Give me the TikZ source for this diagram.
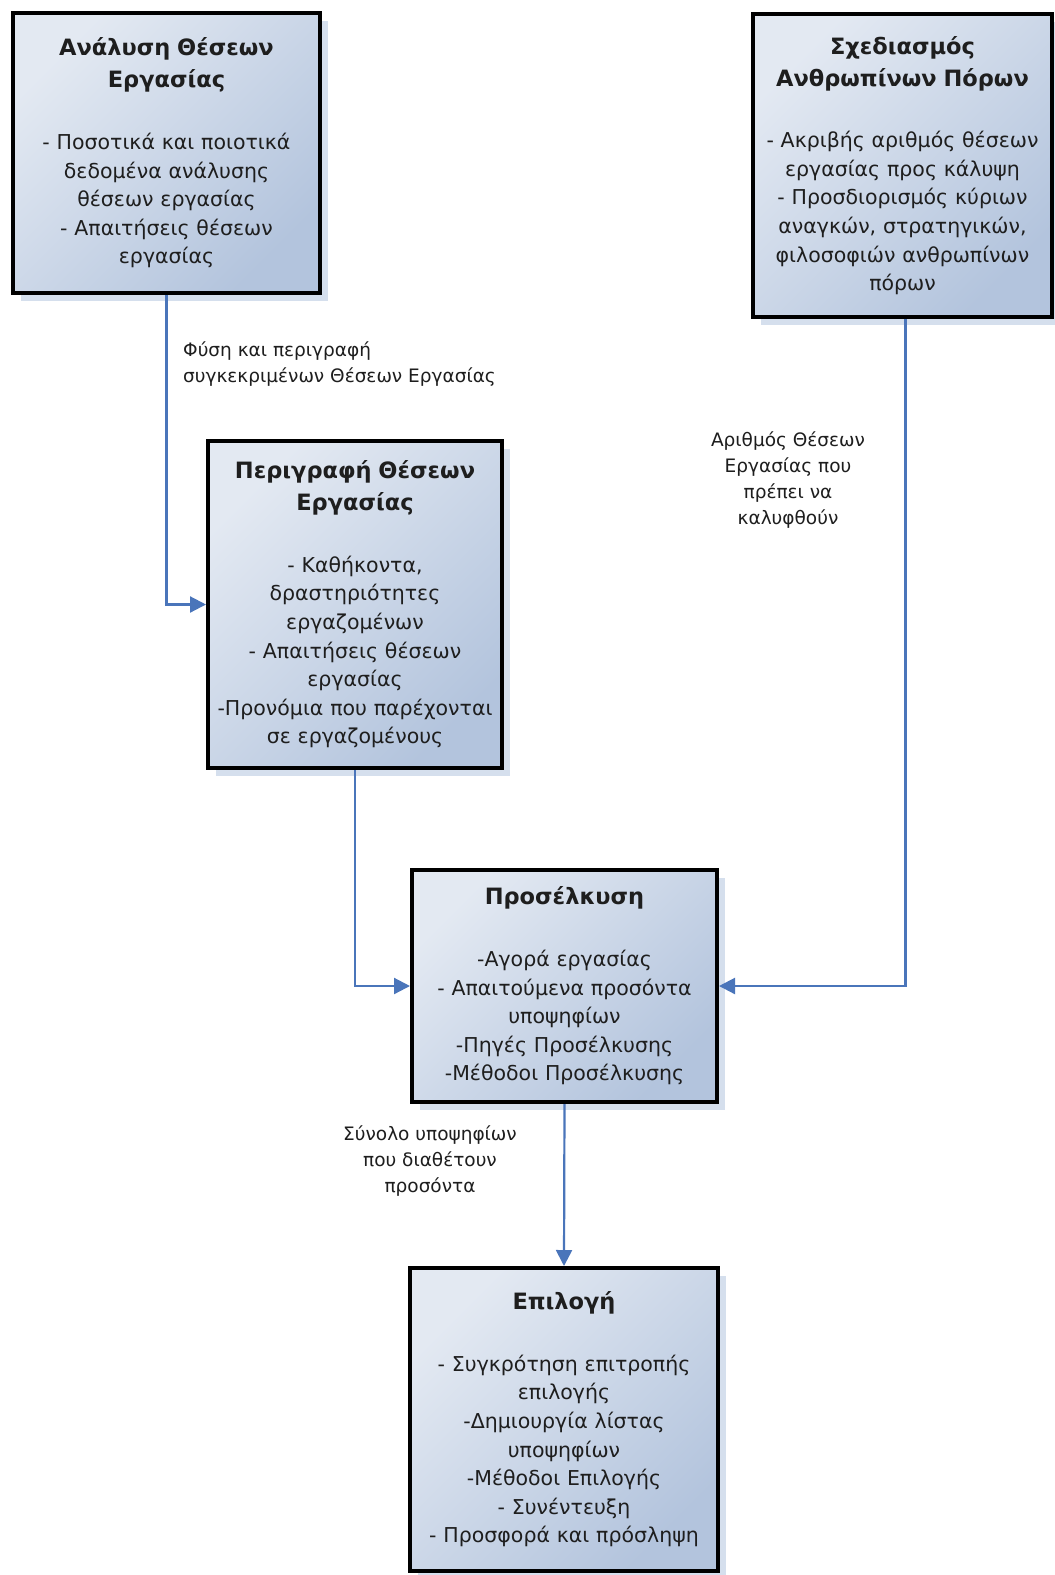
\documentclass[tikz,border=0pt]{standalone}
\usepackage{fontspec}
\setmainfont{DejaVu Sans}
\usetikzlibrary{arrows.meta,shadows}
\definecolor{lineblue}{HTML}{4A75BA}
\definecolor{boxlight}{HTML}{E3E9F2}
\definecolor{boxdark}{HTML}{B3C4DD}
\definecolor{shadowblue}{HTML}{D5DFED}
\definecolor{txt}{HTML}{1E1E1E}
\newcommand{\bxtitle}[1]{{\bfseries\fontsize{22.5}{32}\selectfont #1\par}\vspace{33pt}}
\begin{document}
\begin{tikzpicture}[x=1pt,y=-1pt,
  box/.style={draw=black, line width=4pt, rectangle, align=center,
    top color=boxlight, bottom color=boxdark, shading angle=45,
    drop shadow={shadow xshift=8pt, shadow yshift=-8pt, fill=shadowblue, opacity=1},
    font=\fontsize{20.5}{28.6}\selectfont, text=txt, inner sep=0pt},
  conn/.style={draw=lineblue, line width=2.2pt, -{Triangle[length=16pt,width=16pt]}},
  lbl/.style={font=\fontsize{18.5}{26}\selectfont, text=txt, inner sep=0pt}
]
\useasboundingbox (0,0) rectangle (1055,1575);
\fill[white] (0,0) rectangle (1055,1575);

\node[box, text width=303, minimum width=307, minimum height=280] (b1) at (166.5,153)
  {\bxtitle{Ανάλυση Θέσεων\\Εργασίας}
   - Ποσοτικά και ποιοτικά\\δεδομένα ανάλυσης\\θέσεων εργασίας\\- Απαιτήσεις θέσεων\\εργασίας};

\node[box, text width=295, minimum width=299, minimum height=303] (b2) at (902.5,165.5)
  {\bxtitle{Σχεδιασμός\\Ανθρωπίνων Πόρων}
   - Ακριβής αριθμός θέσεων\\εργασίας προς κάλυψη\\- Προσδιορισμός κύριων\\αναγκών, στρατηγικών,\\φιλοσοφιών ανθρωπίνων\\πόρων};

\node[box, text width=292, minimum width=294, minimum height=327] (b3) at (355,604.5)
  {\bxtitle{Περιγραφή Θέσεων\\Εργασίας}
   - Καθήκοντα,\\δραστηριότητες\\εργαζομένων\\- Απαιτήσεις θέσεων\\εργασίας\\-Προνόμια που παρέχονται\\σε εργαζομένους};

\node[box, text width=301, minimum width=305, minimum height=232] (b4) at (564.5,986)
  {\bxtitle{Προσέλκυση}
   -Αγορά εργασίας\\- Απαιτούμενα προσόντα\\υποψηφίων\\-Πηγές Προσέλκυσης\\-Μέθοδοι Προσέλκυσης};

\node[box, text width=304, minimum width=308, minimum height=303] (b5) at (564,1419.5)
  {\bxtitle{Επιλογή}
   - Συγκρότηση επιτροπής\\επιλογής\\-Δημιουργία λίστας\\υποψηφίων\\-Μέθοδοι Επιλογής\\- Συνέντευξη\\- Προσφορά και πρόσληψη};

\draw[conn] (b1.south) |- (b3.west);
\draw[conn] (b3.south) |- (b4.west);
\draw[conn] ([xshift=3pt]b2.south) |- (b4.east);
\draw[conn] (b4.south) -- (b5.north);

\node[lbl, align=left, anchor=north west] (l1) at (183,341)
  {Φύση και περιγραφή\\συγκεκριμένων Θέσεων Εργασίας};
\node[lbl, align=center, anchor=north] (l2) at (788,431)
  {Αριθμός Θέσεων\\Εργασίας που\\πρέπει να\\καλυφθούν};
\node[lbl, align=center, anchor=north] (l3) at (430,1125)
  {Σύνολο υποψηφίων\\που διαθέτουν\\προσόντα};
\end{tikzpicture}
\end{document}
